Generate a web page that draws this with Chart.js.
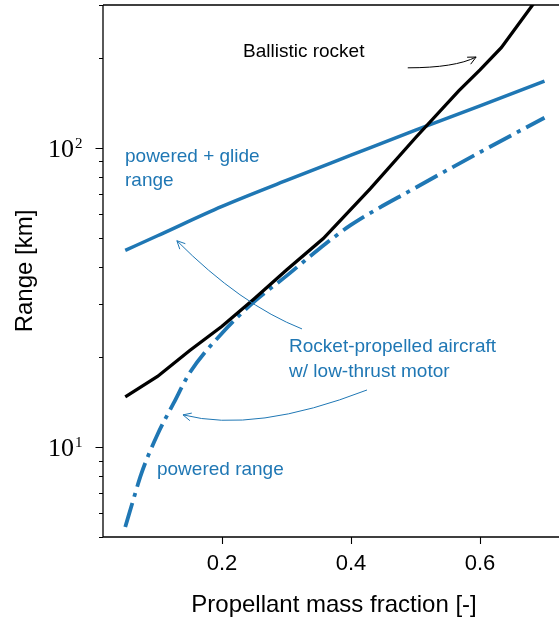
<!DOCTYPE html>
<html>
<head>
<meta charset="utf-8">
<script src="https://cdn.jsdelivr.net/npm/chart.js@4"></script>
<style>
  html, body { margin: 0; padding: 0; background: #fff; }
  #wrap { width: 559px; height: 619px; position: relative; }
</style>
</head>
<body>
<div id="wrap"><canvas id="c"></canvas></div>
<script>
// ── Data ──────────────────────────────────────────────────────────────────
const BLUE = "#1f77b4";

const ballisticX = [0.05, 0.1, 0.15, 0.2, 0.25, 0.3, 0.357, 0.43, 0.5, 0.567, 0.6, 0.633, 0.7];
const ballisticY = [14.7, 17.2, 21.0, 25.3, 31.3, 39.0, 49.7, 73.0, 108, 155, 182, 216, 340];

const glideX = [0.05, 0.1, 0.2, 0.3, 0.4, 0.5, 0.6, 0.7];
const glideY = [45.4, 50.8, 63.7, 77.8, 94.4, 114.5, 138, 167];

const poweredX = [0.05, 0.0625, 0.075, 0.1, 0.125, 0.15, 0.2, 0.25, 0.3, 0.35, 0.4, 0.5, 0.6, 0.7];
const poweredY = [5.4, 6.66, 8.15, 11.0, 14.0, 17.7, 24.0, 30.6, 37.3, 45.8, 55.2, 73.5, 96.6, 126];

const xTicks = [0.2, 0.4, 0.6];
const yTicks = [5, 6, 7, 8, 9, 10, 20, 30, 40, 50, 60, 70, 80, 90, 100, 200, 300];
const yMajor = { 10: "1", 100: "2" };   // exponent of the labelled decades

// annotations in data coordinates
const notes = [
  { text: ["Ballistic rocket"], x: 0.2326, y: 209, color: "#000" },
  { text: ["powered + glide", "range"], x: 0.0496, y: 93.3, color: BLUE, lineGap: 24 },
  { text: ["Rocket-propelled aircraft", "w/ low-thrust motor"], x: 0.304, y: 21.6, color: BLUE, lineGap: 25 },
  { text: ["powered range"], x: 0.0992, y: 8.38, color: BLUE },
];
const arrows = [
  { from: [0.488, 185], ctrl: [0.561, 185], to: [0.594, 201], color: "#000" },
  { from: [0.324, 24.8], ctrl: [0.2287, 29.9], to: [0.130, 48.9], color: BLUE },
  { from: [0.4248, 15.5], ctrl: [0.2512, 11.1], to: [0.1395, 12.8], color: BLUE },
];

const pts = (xs, ys) => xs.map((x, i) => ({ x, y: ys[i] }));
const SANS = "'Liberation Sans', Arial, Helvetica, sans-serif";
const SERIF = "'Liberation Serif', 'Times New Roman', serif";

// ── Plugin: spines, ticks, labels, axis titles, annotations ───────────────
const decor = {
  id: "decor",
  afterDraw(chart) {
    const { ctx, chartArea: a, scales: { x, y } } = chart;
    ctx.save();
    ctx.strokeStyle = "#000";
    ctx.lineWidth = 1.3;
    // spines: left, bottom, top
    ctx.beginPath();
    ctx.moveTo(a.left, a.top); ctx.lineTo(a.right, a.top);
    ctx.moveTo(a.left, a.top); ctx.lineTo(a.left, a.bottom);
    ctx.moveTo(a.left - 0.6, a.bottom); ctx.lineTo(a.right, a.bottom);
    ctx.stroke();

    // ticks (outward)
    ctx.lineWidth = 1.1;
    ctx.beginPath();
    xTicks.forEach(v => {
      const px = Math.round(x.getPixelForValue(v)) + 0.5;
      ctx.moveTo(px, a.bottom); ctx.lineTo(px, a.bottom + 7);
    });
    yTicks.forEach(v => {
      const py = Math.round(y.getPixelForValue(v)) + 0.5;
      const len = yMajor[v] ? 7.5 : 4;
      ctx.moveTo(a.left, py); ctx.lineTo(a.left - len, py);
    });
    ctx.stroke();

    // y decade labels: 10 with a raised exponent
    ctx.fillStyle = "#000";
    ctx.textAlign = "left";
    ctx.textBaseline = "alphabetic";
    Object.keys(yMajor).forEach(v => {
      const py = y.getPixelForValue(+v);
      ctx.font = "26px " + SERIF;
      const w = ctx.measureText("10").width;
      const left = 48;
      ctx.fillText("10", left, py + 9);
      ctx.font = "15px " + SERIF;
      ctx.fillText(yMajor[v], left + w + 1, py);
    });

    // axis titles
    ctx.font = "24px " + SANS;
    ctx.textAlign = "center";
    ctx.fillText("Propellant mass fraction [-]", 334, 611.5);
    ctx.save();
    ctx.translate(31.5, (a.top + a.bottom) / 2);
    ctx.rotate(-Math.PI / 2);
    ctx.fillText("Range [km]", 0, 0);
    ctx.restore();

    // annotation text
    ctx.font = "19px " + SANS;
    ctx.textAlign = "left";
    ctx.textBaseline = "middle";
    notes.forEach(n => {
      ctx.fillStyle = n.color;
      const px = x.getPixelForValue(n.x);
      const py = y.getPixelForValue(n.y);
      n.text.forEach((t, i) => ctx.fillText(t, px, py + i * (n.lineGap || 0)));
    });

    // curved arrows with open heads
    arrows.forEach(ar => {
      const p0 = [x.getPixelForValue(ar.from[0]), y.getPixelForValue(ar.from[1])];
      const c = [x.getPixelForValue(ar.ctrl[0]), y.getPixelForValue(ar.ctrl[1])];
      const p1 = [x.getPixelForValue(ar.to[0]), y.getPixelForValue(ar.to[1])];
      ctx.strokeStyle = ar.color;
      ctx.lineWidth = 1;
      ctx.beginPath();
      ctx.moveTo(p0[0], p0[1]);
      ctx.quadraticCurveTo(c[0], c[1], p1[0], p1[1]);
      ctx.stroke();
      const ang = Math.atan2(p1[1] - c[1], p1[0] - c[0]);
      const L = 9, w = 0.45;
      ctx.beginPath();
      ctx.moveTo(p1[0] - L * Math.cos(ang - w), p1[1] - L * Math.sin(ang - w));
      ctx.lineTo(p1[0], p1[1]);
      ctx.lineTo(p1[0] - L * Math.cos(ang + w), p1[1] - L * Math.sin(ang + w));
      ctx.stroke();
    });
    ctx.restore();
  },
};

new Chart(document.getElementById("c"), {
  type: "line",
  data: {
    datasets: [
      { label: "Ballistic rocket", data: pts(ballisticX, ballisticY),
        borderColor: "#000", borderWidth: 3.3, tension: 0 },
      { label: "powered + glide range", data: pts(glideX, glideY),
        borderColor: BLUE, borderWidth: 3.5, cubicInterpolationMode: "monotone" },
      { label: "powered range", data: pts(poweredX, poweredY),
        borderColor: BLUE, borderWidth: 3.8, cubicInterpolationMode: "monotone",
        borderDash: [25, 6.5, 4, 6.5], borderCapStyle: "butt" },
    ],
  },
  options: {
    responsive: true,
    maintainAspectRatio: false,
    animation: false,
    devicePixelRatio: 1,
    layout: { padding: { top: 5, right: 0, left: 0, bottom: 0 } },
    elements: { point: { radius: 0 } },
    plugins: { legend: { display: false }, tooltip: { enabled: false } },
    scales: {
      x: {
        type: "linear",
        min: 0.0155,
        max: 0.7225,
        afterBuildTicks: s => { s.ticks = xTicks.map(v => ({ value: v })); },
        afterFit: s => { s.height = 82; s.paddingLeft = 0; s.paddingRight = 0; },
        grid: { display: true, drawOnChartArea: false, drawTicks: false, lineWidth: 0 },
        border: { display: false },
        ticks: {
          padding: 14,
          color: "#000",
          font: { family: SANS, size: 22 },
          maxRotation: 0,
          callback: v => v.toFixed(1),
        },
      },
      y: {
        type: "logarithmic",
        min: 5,
        max: 300,
        afterBuildTicks: s => { s.ticks = yTicks.map(v => ({ value: v })); },
        afterFit: s => { s.width = 103; s.paddingTop = 0; s.paddingBottom = 0; },
        grid: { display: true, drawOnChartArea: false, drawTicks: false, lineWidth: 0 },
        border: { display: false },
        ticks: { display: false },
      },
    },
  },
  plugins: [decor],
});
</script>
</body>
</html>
